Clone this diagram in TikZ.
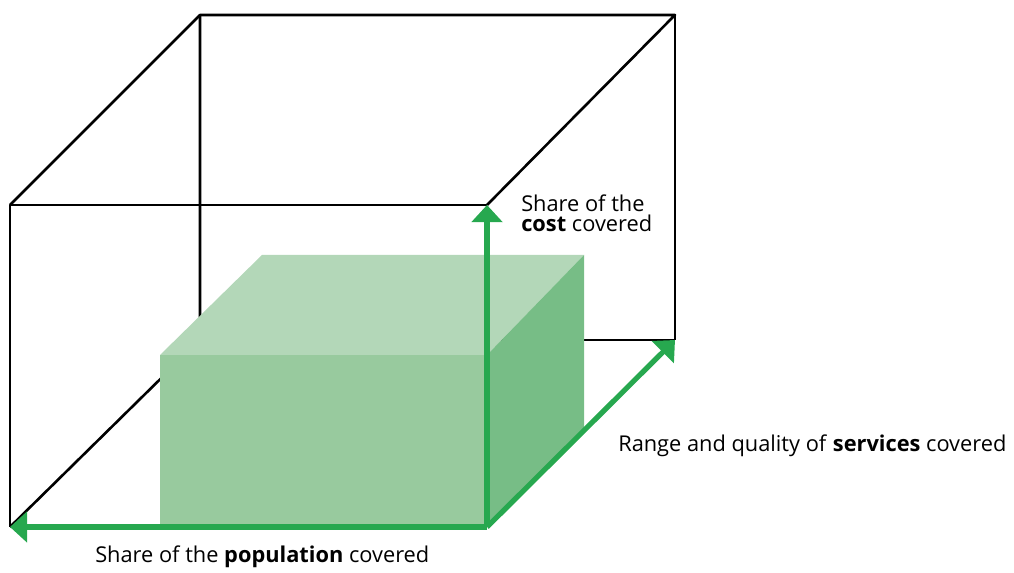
\documentclass[tikz,border=0pt]{standalone}
\usepackage{fontspec}
\setmainfont{Open Sans}
\usetikzlibrary{positioning,arrows.meta}
\definecolor{axisgreen}{RGB}{39,168,79}
\definecolor{frontgreen}{RGB}{152,202,158}
\definecolor{topgreen}{RGB}{179,215,184}
\definecolor{sidegreen}{RGB}{119,189,134}
\tikzset{
  edge/.style={draw=black,line width=0.65mm,line join=round},
  axis/.style={draw=axisgreen,line width=1.3mm,-{Triangle[length=4.3mm,width=7.6mm]}},
  lbl/.style={font=\fontsize{15.5}{14.9}\selectfont,inner sep=0pt,anchor=base west,align=left}
}
\begin{document}
\begin{tikzpicture}[x=0.25mm,y=-0.25mm]
		\useasboundingbox (0,0) rectangle (1014,573);
		% outer box
		\coordinate (0) at (10,527);
		\coordinate (1) at (10,205);
		\coordinate (2) at (487,205);
		\coordinate (3) at (487,527);
		\coordinate (4) at (200,340);
		\coordinate (5) at (200,15);
		\coordinate (6) at (675,15);
		\coordinate (7) at (675,340);
		\draw [edge] (0)--(4)--(5);
		\draw [edge] (4)--(7);
		\draw [edge] (0)--(1)--(2);
		\draw [edge] (1)--(5)--(6)--(2);
		\draw [edge] (6)--(7);
		% green block
		\coordinate (a) at (160,527);
		\coordinate (b) at (160,355);
		\coordinate (c) at (487,355);
		\coordinate (d) at (262,255);
		\coordinate (e) at (584,255);
		\coordinate (f) at (584,430.5);
		\fill [frontgreen] (a)--(b)--(c)--(3)--cycle;
		\fill [topgreen] (b)--(d)--(e)--(c)--cycle;
		\fill [sidegreen] (c)--(e)--(f)--(3)--cycle;
		% axes
		\draw [axis] (3)--(0);
		\draw [axis] (3)--(2);
		\draw [axis] (3)--(7);
		\node [lbl] (cost) at (521,232) {Share of the\\\textbf{cost} covered};
		\node [lbl] (services) at (618,452) {Range and quality of \textbf{services} covered};
		\node [lbl] (population) at (95,563) {Share of the \textbf{population} covered};
		\end{tikzpicture}
\end{document}
